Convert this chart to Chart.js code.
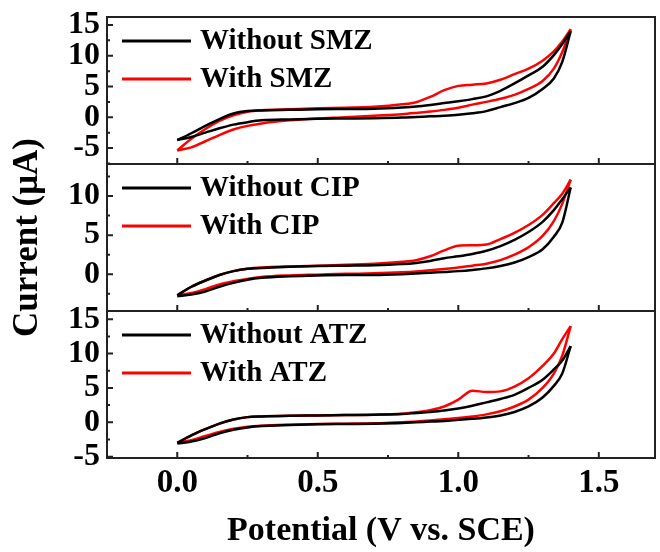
<!DOCTYPE html>
<html>
<head>
<meta charset="utf-8">
<script src="https://cdn.jsdelivr.net/npm/chart.js@4.4.1/dist/chart.umd.min.js"></script>
<style>
  body { margin: 0; background: #fff; }
  #wrap { width: 660px; height: 552px; position: relative; }
</style>
</head>
<body>
<div id="wrap"><canvas id="cv"></canvas></div>
<script>
// potential grid (V vs. SCE), shared by every branch
const potential = [0, 0.05, 0.1, 0.15, 0.2, 0.25, 0.3, 0.4, 0.5, 0.6, 0.7, 0.8, 0.85, 0.9, 0.95, 1.0, 1.05, 1.1, 1.15, 1.2, 1.25, 1.3, 1.34, 1.37, 1.4];

// panel 1 - SMZ (µA), forward = anodic sweep, reverse = return sweep
const smzOffFwd = [-3.7, -2.6, -1.4, -0.3, 0.6, 1.0, 1.1, 1.2, 1.3, 1.35, 1.4, 1.6, 1.75, 2.0, 2.3, 2.6, 2.95, 3.4, 4.3, 5.5, 6.8, 8.2, 10.1, 11.9, 14.0];
const smzOffRev = [-3.7, -3.2, -2.5, -1.8, -1.2, -0.8, -0.5, -0.35, -0.25, -0.2, -0.15, -0.05, 0.05, 0.15, 0.25, 0.4, 0.65, 1.0, 1.65, 2.3, 3.15, 4.6, 6.3, 9.0, 14.0];
const smzOnFwd  = [-5.4, -3.5, -1.9, -0.6, 0.3, 0.9, 1.15, 1.3, 1.45, 1.55, 1.7, 2.1, 2.45, 3.3, 4.4, 5.1, 5.3, 5.5, 6.1, 7.0, 7.9, 9.2, 10.7, 12.3, 14.3];
const smzOnRev  = [-5.4, -4.9, -3.9, -2.9, -2.0, -1.4, -1.0, -0.5, -0.2, 0.0, 0.25, 0.5, 0.7, 0.93, 1.2, 1.55, 2.05, 2.5, 3.0, 3.65, 4.6, 5.9, 7.9, 10.6, 14.3];

// panel 2 - CIP
const cipOffFwd = [-2.7, -1.6, -0.8, -0.1, 0.4, 0.7, 0.8, 0.95, 1.05, 1.1, 1.15, 1.3, 1.45, 1.7, 2.05, 2.3, 2.6, 3.0, 3.6, 4.4, 5.4, 6.7, 8.2, 9.6, 11.1];
const cipOffRev = [-2.8, -2.6, -2.2, -1.6, -1.1, -0.7, -0.45, -0.25, -0.15, -0.1, -0.1, 0.0, 0.1, 0.2, 0.3, 0.4, 0.55, 0.75, 1.05, 1.5, 2.2, 3.2, 4.8, 6.6, 11.1];
const cipOnFwd  = [-2.7, -1.6, -0.8, -0.1, 0.4, 0.7, 0.85, 1.0, 1.1, 1.2, 1.35, 1.6, 1.8, 2.3, 3.05, 3.65, 3.7, 3.8, 4.5, 5.3, 6.3, 7.6, 9.1, 10.3, 12.1];
const cipOnRev  = [-2.7, -2.4, -1.9, -1.3, -0.9, -0.6, -0.35, -0.15, -0.05, 0.05, 0.12, 0.25, 0.35, 0.5, 0.68, 0.85, 1.1, 1.35, 1.8, 2.5, 3.45, 4.9, 6.8, 9.0, 12.1];

// panel 3 - ATZ
const atzOffFwd = [-3.0, -1.9, -1.0, -0.2, 0.4, 0.75, 0.85, 0.95, 1.0, 1.05, 1.1, 1.2, 1.35, 1.5, 1.7, 2.0, 2.4, 2.9, 3.4, 4.0, 5.0, 6.2, 7.7, 9.0, 11.1];
const atzOffRev = [-3.1, -2.8, -2.3, -1.6, -1.1, -0.75, -0.55, -0.4, -0.3, -0.25, -0.2, -0.1, 0.0, 0.1, 0.2, 0.35, 0.5, 0.7, 1.0, 1.5, 2.3, 3.6, 5.3, 7.1, 11.1];
const atzOnFwd  = [-3.0, -1.9, -1.0, -0.2, 0.4, 0.75, 0.85, 0.95, 1.0, 1.05, 1.1, 1.25, 1.45, 1.77, 2.3, 3.3, 4.6, 4.4, 4.5, 5.2, 6.4, 8.2, 10.0, 12.1, 14.0];
const atzOnRev  = [-3.0, -2.6, -2.0, -1.4, -0.95, -0.65, -0.5, -0.35, -0.25, -0.2, -0.15, 0.0, 0.1, 0.25, 0.45, 0.62, 0.85, 1.15, 1.6, 2.3, 3.3, 5.0, 7.1, 9.7, 14.0];

const legendNames = [['Without SMZ', 'With SMZ'], ['Without CIP', 'With CIP'], ['Without ATZ', 'With ATZ']];
const panelIds = ['y1', 'y2', 'y3'];          // top to bottom
const panelRanges = [[-7.6, 16.3], [-4.7, 14.1], [-5.2, 16.2]];
const xTitle = 'Potential (V vs. SCE)';
const yTitle = 'Current (\u03bcA)';

const BLACK = '#000000';
const RED = '#ff0000';
const SERIF = '"Liberation Serif", "Times New Roman", serif';

function pts(ys) {
  return potential.map((e, i) => ({ x: e, y: ys[i] }));
}

function curve(ys, color, axis) {
  return {
    data: pts(ys),
    yAxisID: axis,
    borderColor: color,
    borderWidth: 2.5,
    pointRadius: 0,
    showLine: true,
    fill: false,
    cubicInterpolationMode: 'monotone'
  };
}

const datasets = [
  curve(smzOffFwd, BLACK, 'y1'), curve(smzOffRev, BLACK, 'y1'),
  curve(smzOnFwd, RED, 'y1'), curve(smzOnRev, RED, 'y1'),
  curve(cipOffFwd, BLACK, 'y2'), curve(cipOffRev, BLACK, 'y2'),
  curve(cipOnFwd, RED, 'y2'), curve(cipOnRev, RED, 'y2'),
  curve(atzOffFwd, BLACK, 'y3'), curve(atzOffRev, BLACK, 'y3'),
  curve(atzOnFwd, RED, 'y3'), curve(atzOnRev, RED, 'y3')
];

function yScale(p) {
  return {
    type: 'linear',
    position: 'left',
    stack: 'cv',
    stackWeight: 1,
    min: panelRanges[p][0],
    max: panelRanges[p][1],
    afterFit: s => { s.width = 107; s.paddingTop = 0; s.paddingBottom = 0; },
    grid: { display: false, drawTicks: false },
    border: { display: false },
    ticks: {
      stepSize: 5,
      includeBounds: false,
      autoSkip: false,
      padding: 7,
      color: '#000',
      font: { family: SERIF, size: 32, weight: 'bold' }
    }
  };
}

// frames and inward tick marks for each panel
const framePlugin = {
  id: 'frames',
  afterDatasetsDraw(chart) {
    const ctx = chart.ctx, area = chart.chartArea, xs = chart.scales.x;
    ctx.save();
    ctx.strokeStyle = '#222';
    ctx.lineWidth = 2;
    panelIds.forEach(id => {
      const ys = chart.scales[id];
      ctx.strokeRect(area.left, ys.top, area.right - area.left, ys.bottom - ys.top);
      ctx.beginPath();
      for (let v = Math.ceil(ys.min / 2.5) * 2.5; v < ys.max; v += 2.5) {
        const py = ys.getPixelForValue(v);
        const major = Math.abs(v % 5) < 1e-6;
        ctx.moveTo(area.left, py);
        ctx.lineTo(area.left + (major ? 6 : 3), py);
      }
      for (let v = Math.ceil(xs.min / 0.25 + 0.01) * 0.25; v < xs.max; v += 0.25) {
        const px = xs.getPixelForValue(v);
        const major = Math.abs(v % 0.5) < 1e-6;
        ctx.moveTo(px, ys.bottom);
        ctx.lineTo(px, ys.bottom - (major ? 6 : 3));
      }
      ctx.stroke();
    });
    ctx.restore();
  },
  afterDraw(chart) {
    const ctx = chart.ctx, area = chart.chartArea;
    ctx.save();
    // legends inside each panel
    ctx.font = 'bold 29px ' + SERIF;
    ctx.textBaseline = 'middle';
    ctx.textAlign = 'left';
    panelIds.forEach((id, p) => {
      const ys = chart.scales[id];
      [BLACK, RED].forEach((c, k) => {
        const yy = ys.top + (k ? 62 : 24);
        ctx.strokeStyle = c;
        ctx.lineWidth = 3;
        ctx.beginPath();
        ctx.moveTo(area.left + 15, yy);
        ctx.lineTo(area.left + 84, yy);
        ctx.stroke();
        ctx.fillStyle = '#000';
        ctx.fillText(legendNames[p][k], area.left + 93, yy + 1);
      });
    });
    // shared y title
    ctx.font = 'bold 35px ' + SERIF;
    ctx.textAlign = 'center';
    ctx.translate(28, (area.top + area.bottom) / 2);
    ctx.rotate(-Math.PI / 2);
    ctx.fillText(yTitle, 0, 0);
    ctx.restore();
  }
};

new Chart(document.getElementById('cv'), {
  type: 'scatter',
  data: { datasets: datasets },
  plugins: [framePlugin],
  options: {
    responsive: true,
    maintainAspectRatio: false,
    animation: false,
    layout: { padding: { left: 0, right: 5, top: 17, bottom: 0 } },
    plugins: { legend: { display: false }, tooltip: { enabled: false } },
    scales: {
      x: {
        type: 'linear',
        position: 'bottom',
        min: -0.25,
        max: 1.7,
        afterFit: s => { s.height = 94; s.paddingLeft = 0; s.paddingRight = 0; },
        grid: { display: false, drawTicks: false },
        border: { display: false },
        ticks: {
          stepSize: 0.5,
          includeBounds: false,
          autoSkip: false,
          maxRotation: 0,
          padding: 6,
          color: '#000',
          font: { family: SERIF, size: 33, weight: 'bold' },
          callback: v => Math.abs(v).toFixed(1)
        },
        title: {
          display: true,
          text: xTitle,
          color: '#000',
          padding: 0,
          font: { family: SERIF, size: 34, weight: 'bold' }
        }
      },
      y3: yScale(2),
      y2: yScale(1),
      y1: yScale(0)
    }
  }
});
</script>
</body>
</html>
